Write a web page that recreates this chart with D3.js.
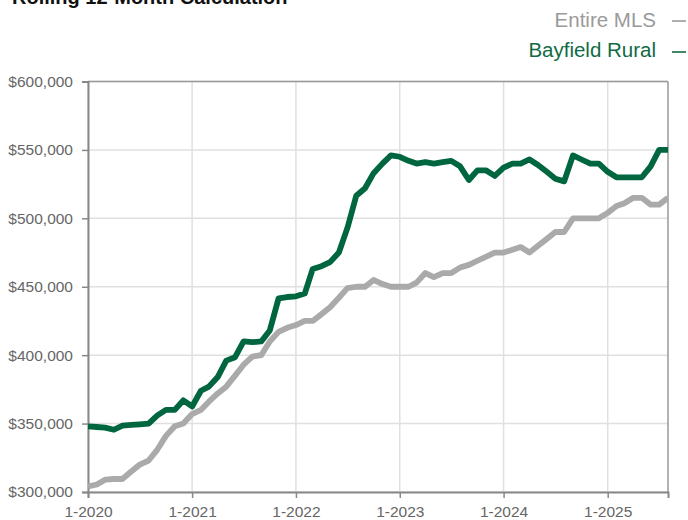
<!DOCTYPE html>
<html>
<head>
<meta charset="utf-8">
<script src="https://cdn.jsdelivr.net/npm/d3@7"></script>
<style>
  html, body { margin: 0; padding: 0; background: #fff; }
  svg { display: block; font-family: "Liberation Sans", Arial, Helvetica, sans-serif; }
</style>
</head>
<body>
<svg id="chart" width="688" height="520"></svg>
<script>
const title = "Rolling 12-Month Calculation";
const seriesNames = ["Entire MLS", "Bayfield Rural"];
const seriesColors = ["#aaaaaa", "#00663f"];
const legendTextColors = ["#9a9a9a", "#0f6b45"];
const startYear = 2020;
const xTickLabels = ["1-2020", "1-2021", "1-2022", "1-2023", "1-2024", "1-2025"];
const yTicks = [300000, 350000, 400000, 450000, 500000, 550000, 600000];

const entireMLS = [
  304000, 305500, 309000, 309500, 309500, 315000, 320000, 323000, 331000, 341000, 348000, 350000,
  357000, 360000, 366000, 372000, 377000, 385000, 393000, 399000, 400000, 410000, 417000, 420000,
  422000, 425000, 425000, 430000, 435000, 442000, 449000, 450000, 450000, 455000, 452000, 450000,
  450000, 450000, 453000, 460000, 457000, 460000, 460000, 464000, 466000, 469000, 472000, 475000,
  475000, 477000, 479000, 475000, 480000, 485000, 490000, 490000, 500000, 500000, 500000, 500000,
  504000, 509000, 511000, 515000, 515000, 510000, 510000, 515000
];
const bayfieldRural = [
  348000, 347500, 347000, 345500, 348500, 349000, 349500, 350000, 356000, 360000, 360000, 367000,
  362500, 374000, 377000, 384000, 396000, 398500, 410000, 409500, 410000, 418000, 441500, 442500,
  443000, 445000, 463000, 465000, 468000, 475000, 493000, 516500, 522000, 533000, 540000, 546000,
  545000, 542000, 540000, 541000, 540000, 541000, 542000, 538000, 528000, 535000, 535000, 531000,
  537000, 540000, 540000, 543000, 539000, 534000, 529000, 527000, 546000, 543000, 540000, 540000,
  534000, 530000, 530000, 530000, 530000, 538000, 550000, 550000
];

const dates = entireMLS.map((d, i) => new Date(startYear, i, 1));
const tickDates = xTickLabels.map((l, i) => new Date(startYear + i, 0, 1));

const margin = { left: 88, right: 20, top: 81.5, bottom: 28 };
const W = 688, H = 520;
const svg = d3.select("#chart");

const x = d3.scaleTime()
  .domain([dates[0], dates[dates.length - 1]])
  .range([margin.left, W - margin.right]);
const y = d3.scaleLinear()
  .domain([300000, 600000])
  .range([H - margin.bottom, margin.top]);

// Title (mostly cut off at top, as in the reference)
svg.append("text")
  .attr("x", 12).attr("y", 4)
  .attr("font-size", 20).attr("font-weight", "bold")
  .attr("fill", "#111")
  .text(title);

// Legend
const legendRows = [{ y: 26.5, dash: 21 }, { y: 56.5, dash: 52 }];
seriesNames.forEach((name, i) => {
  svg.append("text")
    .attr("x", 656).attr("y", legendRows[i].y)
    .attr("text-anchor", "end")
    .attr("font-size", 20.5)
    .attr("fill", legendTextColors[i])
    .text(name);
  svg.append("line")
    .attr("x1", 672).attr("x2", 686)
    .attr("y1", legendRows[i].dash).attr("y2", legendRows[i].dash)
    .attr("stroke", legendTextColors[i]).attr("stroke-width", 1.6);
});

// Gridlines
svg.append("g")
  .selectAll("line.h")
  .data(yTicks)
  .join("line")
  .attr("x1", margin.left).attr("x2", W - margin.right)
  .attr("y1", d => y(d)).attr("y2", d => y(d))
  .attr("stroke", "#e0e0e0").attr("stroke-width", 1.5);
svg.append("g")
  .selectAll("line.v")
  .data(tickDates)
  .join("line")
  .attr("x1", d => x(d)).attr("x2", d => x(d))
  .attr("y1", margin.top).attr("y2", H - margin.bottom)
  .attr("stroke", "#e0e0e0").attr("stroke-width", 1.5);

// Frame top/right
svg.append("line")
  .attr("x1", margin.left).attr("x2", W - margin.right)
  .attr("y1", margin.top).attr("y2", margin.top)
  .attr("stroke", "#999").attr("stroke-width", 1.5);
svg.append("line")
  .attr("x1", W - margin.right).attr("x2", W - margin.right)
  .attr("y1", margin.top).attr("y2", H - margin.bottom)
  .attr("stroke", "#999").attr("stroke-width", 1.5);

// Axes
const fmt = d3.format("$,.0f");
const yAxis = svg.append("g")
  .attr("transform", `translate(${margin.left},0)`)
  .call(d3.axisLeft(y).tickValues(yTicks).tickFormat(fmt).tickSize(6).tickPadding(9));
const xAxis = svg.append("g")
  .attr("transform", `translate(0,${H - margin.bottom})`)
  .call(d3.axisBottom(x).tickValues(tickDates).tickFormat((d, i) => xTickLabels[i]).tickSize(6).tickPadding(8));

[yAxis, xAxis].forEach(g => {
  g.select(".domain").attr("stroke", "#888").attr("stroke-width", 2);
  g.selectAll(".tick line").attr("stroke", "#888").attr("stroke-width", 1.5);
  g.selectAll(".tick text")
    .attr("fill", "#666")
    .attr("font-size", 15.5)
    .attr("font-family", "'Liberation Sans', Arial, sans-serif");
});

// Lines
const line = d3.line()
  .x((d, i) => x(dates[i]))
  .y(d => y(d));

svg.append("clipPath").attr("id", "clip")
  .append("rect")
  .attr("x", margin.left).attr("y", margin.top - 10)
  .attr("width", W - margin.right - margin.left)
  .attr("height", H - margin.bottom - margin.top + 10);

const plot = svg.append("g").attr("clip-path", "url(#clip)");
[entireMLS, bayfieldRural].forEach((series, i) => {
  plot.append("path")
    .datum(series)
    .attr("d", line)
    .attr("fill", "none")
    .attr("stroke", seriesColors[i])
    .attr("stroke-width", 5.8)
    .attr("stroke-linejoin", "round")
    .attr("stroke-linecap", "butt");
});
</script>
</body>
</html>
